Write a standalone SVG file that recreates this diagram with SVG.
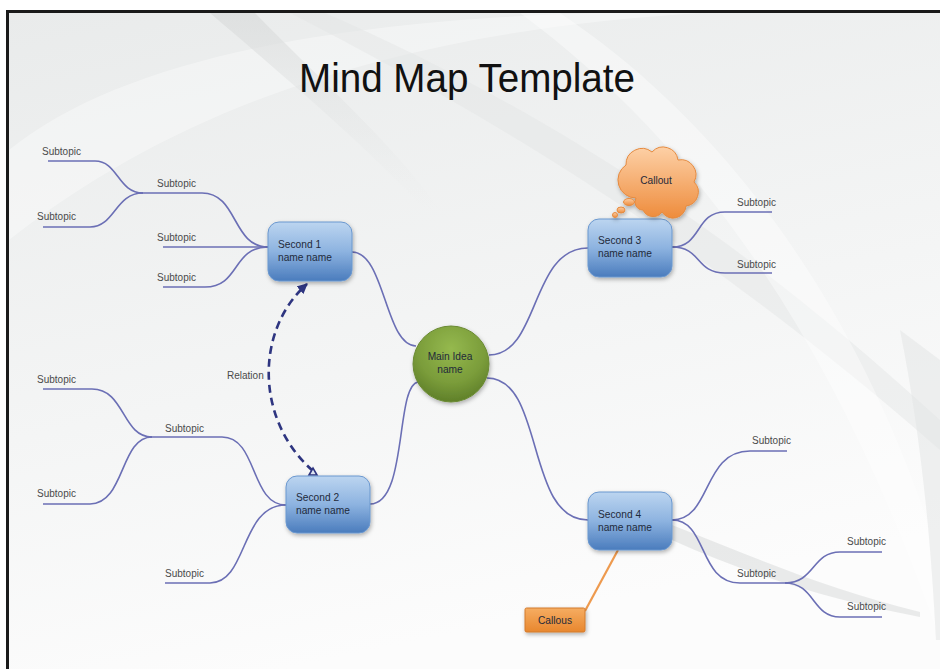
<svg xmlns="http://www.w3.org/2000/svg" width="940" height="669" viewBox="0 0 940 669">
<defs>
<linearGradient id="bg" x1="0" y1="0" x2="0.3" y2="1">
<stop offset="0" stop-color="#e9ebeb"/>
<stop offset="0.6" stop-color="#f4f5f5"/>
<stop offset="1" stop-color="#fcfcfc"/>
</linearGradient>
<linearGradient id="fade" x1="0" y1="0" x2="0" y2="1">
<stop offset="0" stop-color="#d9dbdb" stop-opacity="0.7"/>
<stop offset="1" stop-color="#e6e8e8" stop-opacity="0"/>
</linearGradient>
<linearGradient id="blue" x1="0" y1="0" x2="0" y2="1">
<stop offset="0" stop-color="#bcd5f0"/>
<stop offset="0.5" stop-color="#8db3e0"/>
<stop offset="1" stop-color="#4a7cbd"/>
</linearGradient>
<radialGradient id="green" cx="0.5" cy="0.3" r="0.75">
<stop offset="0" stop-color="#95b94e"/>
<stop offset="0.6" stop-color="#7a9c3a"/>
<stop offset="1" stop-color="#5a7a26"/>
</radialGradient>
<linearGradient id="orange" x1="0" y1="0" x2="0" y2="1">
<stop offset="0" stop-color="#fdd0a6"/>
<stop offset="1" stop-color="#ee8c3c"/>
</linearGradient>
<linearGradient id="orange2" x1="0" y1="0" x2="0" y2="1">
<stop offset="0" stop-color="#f6ad62"/>
<stop offset="1" stop-color="#e8872e"/>
</linearGradient>
<filter id="sh" x="-25%" y="-25%" width="160%" height="160%">
<feDropShadow dx="1" dy="2" stdDeviation="2" flood-color="#000" flood-opacity="0.3"/>
</filter>
<marker id="arr" viewBox="0 0 10 10" refX="9" refY="5" markerWidth="4" markerHeight="4" orient="auto">
<path d="M0,0 L10,5 L0,10 Z" fill="#2e3580"/>
</marker>
<style>
.ln{fill:none;stroke:#6b6fb5;stroke-width:1.6}
.sub{font-family:"Liberation Sans",Arial,sans-serif;font-size:10px;fill:#4a4a4a}
.nt{font-family:"Liberation Sans",Arial,sans-serif;font-size:10.2px;fill:#1f2a3a}
.box{fill:url(#blue);stroke:#6b98cf;stroke-width:1;filter:url(#sh)}
</style>
</defs>

<rect x="0" y="0" width="940" height="669" fill="#ffffff"/>
<rect x="8" y="12" width="932" height="657" fill="url(#bg)"/>
<!-- background swooshes -->
<path d="M9,150 C120,60 330,20 600,13 L700,13 C430,30 200,90 9,240 Z" fill="#ffffff" opacity="0.35"/>
<path d="M210,13 L255,13 C320,80 390,140 440,210 L425,210 C370,150 300,90 210,13 Z" fill="url(#fade)"/>
<path d="M290,13 L325,13 C500,90 700,200 940,420 L940,450 C700,240 480,110 290,13 Z" fill="#e2e4e4" opacity="0.45"/>
<path d="M560,13 C720,120 860,300 940,560 L940,640 C850,380 720,160 520,13 Z" fill="#ffffff" opacity="0.4"/>
<path d="M900,330 C918,420 930,520 936,640 L940,640 L940,360 Z" fill="#e2e4e4" opacity="0.5"/>
<path d="M672,525 C760,560 830,590 920,612 L920,617 C830,600 750,575 672,540 Z" fill="#dcdede" opacity="0.6"/>

<!-- frame -->
<line x1="6" y1="11.5" x2="940" y2="11.5" stroke="#1a1a1a" stroke-width="3"/>
<line x1="7.5" y1="10" x2="7.5" y2="669" stroke="#1a1a1a" stroke-width="3"/>

<text x="467" y="92" text-anchor="middle" font-family="&quot;Liberation Sans&quot;, Arial, sans-serif" font-size="40" fill="#111" textLength="336" lengthAdjust="spacingAndGlyphs">Mind Map Template</text>

<g id="connectors">
<!-- main to seconds -->
<path class="ln" d="M352,252 C385,252 385,346 416,346"/>
<path class="ln" d="M370,504 C408,504 395,386 418,382"/>
<path class="ln" d="M489,355 C540,355 530,248 588,248"/>
<path class="ln" d="M487,378 C545,378 525,520 588,520"/>
<!-- second 1 subtopics -->
<path class="ln" d="M48,161 L95,161 C118,161 118,193 143,193"/>
<path class="ln" d="M43,227 L90,227 C115,227 115,193 143,193"/>
<path class="ln" d="M140,193 L202,193 C238,193 232,247 268,247"/>
<path class="ln" d="M163,247 L268,247"/>
<path class="ln" d="M163,287 L205,287 C240,287 232,247 268,247"/>
<!-- second 2 subtopics -->
<path class="ln" d="M43,389 L92,389 C125,389 122,437 152,437"/>
<path class="ln" d="M43,504 L90,504 C125,504 120,437 152,437"/>
<path class="ln" d="M150,437 L222,437 C258,437 250,505 286,505"/>
<path class="ln" d="M165,583 L210,583 C248,583 240,505 286,505"/>
<!-- second 3 subtopics -->
<path class="ln" d="M672,247 C702,247 695,212 725,212 L772,212"/>
<path class="ln" d="M672,247 C702,247 695,273 725,273 L772,273"/>
<!-- second 4 subtopics -->
<path class="ln" d="M672,520 C712,520 702,451 750,451 L787,451"/>
<path class="ln" d="M672,520 C708,520 698,583 740,583 L788,583"/>
<path class="ln" d="M785,583 C815,583 812,552 840,552 L882,552"/>
<path class="ln" d="M785,583 C815,583 812,617 840,617 L882,617"/>
<!-- relation -->
<path d="M313,471 C255,420 255,330 307,284" fill="none" stroke="#2e3580" stroke-width="2.6" stroke-dasharray="8,5" marker-end="url(#arr)"/>
<path d="M309,475 L313,468 L317,475 Z" fill="#dfe6f2" stroke="#2e3580" stroke-width="1.6"/>
<text class="sub" x="227" y="379">Relation</text>
<!-- callout line -->
<path d="M585,611 L618,550" fill="none" stroke="#ee9a4e" stroke-width="2.2"/>
</g>

<g id="subtopics">
<text class="sub" x="42" y="155">Subtopic</text>
<text class="sub" x="157" y="187">Subtopic</text>
<text class="sub" x="37" y="220">Subtopic</text>
<text class="sub" x="157" y="241">Subtopic</text>
<text class="sub" x="157" y="281">Subtopic</text>
<text class="sub" x="37" y="383">Subtopic</text>
<text class="sub" x="165" y="432">Subtopic</text>
<text class="sub" x="37" y="497">Subtopic</text>
<text class="sub" x="165" y="577">Subtopic</text>
<text class="sub" x="737" y="206">Subtopic</text>
<text class="sub" x="737" y="268">Subtopic</text>
<text class="sub" x="752" y="444">Subtopic</text>
<text class="sub" x="737" y="577">Subtopic</text>
<text class="sub" x="847" y="545">Subtopic</text>
<text class="sub" x="847" y="610">Subtopic</text>
</g>

<g id="main-idea">
<circle cx="451" cy="364" r="38" fill="url(#green)" stroke="#6a8a32" stroke-width="1" filter="url(#sh)"/>
<text class="nt" x="450" y="360" text-anchor="middle">Main Idea</text>
<text class="nt" x="450" y="373" text-anchor="middle">name</text>
</g>

<g id="second1">
<rect class="box" x="268" y="222" width="84" height="59" rx="11"/>
<text class="nt" x="278" y="248">Second 1</text>
<text class="nt" x="278" y="261">name name</text>
</g>

<g id="second2">
<rect class="box" x="286" y="476" width="84" height="57" rx="11"/>
<text class="nt" x="296" y="501">Second 2</text>
<text class="nt" x="296" y="514">name name</text>
</g>

<g id="second3">
<rect class="box" x="588" y="219" width="84" height="58" rx="11"/>
<text class="nt" x="598" y="244">Second 3</text>
<text class="nt" x="598" y="257">name name</text>
</g>

<g id="second4">
<rect class="box" x="588" y="492" width="84" height="58" rx="11"/>
<text class="nt" x="598" y="518">Second 4</text>
<text class="nt" x="598" y="531">name name</text>
</g>

<g id="callout-cloud">
<g fill="url(#orange)" stroke="#e58a3f" stroke-width="1" filter="url(#sh)">
<path d="M643,210 A8,8 0 0 1 636,198 A18,18 0 0 1 626,165 A16,16 0 0 1 652,152 A15,15 0 0 1 678,160 A15,15 0 0 1 694,182 A14,14 0 0 1 686,206 A13,13 0 0 1 662,212 A11,11 0 0 1 643,210 Z"/>
<ellipse cx="629" cy="202" rx="5.5" ry="3.5"/>
<ellipse cx="621" cy="210" rx="4" ry="3"/>
<circle cx="615" cy="215" r="2.5"/>
</g>
<text class="nt" x="656" y="184" text-anchor="middle" font-size="11">Callout</text>
</g>

<g id="callout-box">
<rect x="525" y="608" width="60" height="24" rx="1.5" fill="url(#orange2)" stroke="#d27a2e" stroke-width="1" filter="url(#sh)"/>
<text class="nt" x="555" y="624" text-anchor="middle" fill="#3a2510">Callous</text>
</g>
</svg>
